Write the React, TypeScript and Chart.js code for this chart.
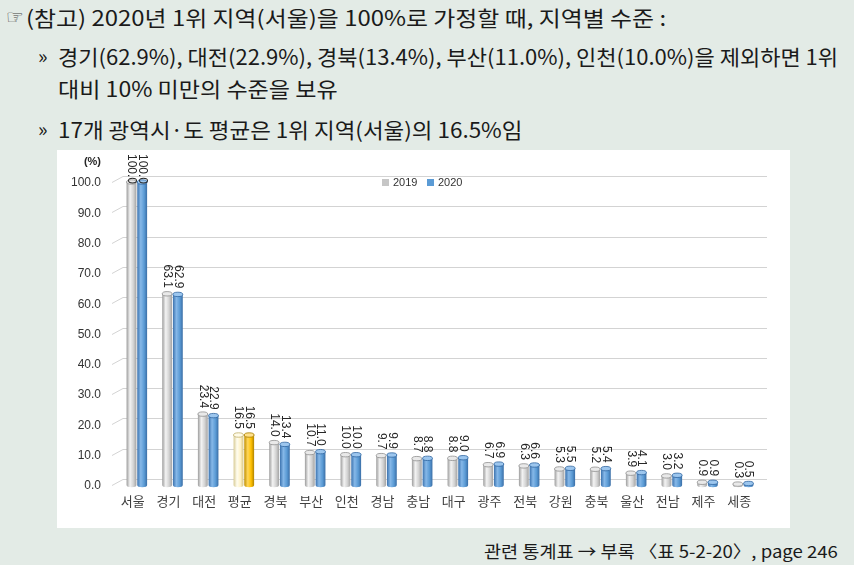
import React, { useEffect, useLayoutEffect, useRef, useState } from 'react';
import { Chart, registerables } from 'chart.js';

Chart.register(...registerables);

// ---------------- data ----------------
const categories = ['서울', '경기', '대전', '평균', '경북', '부산', '인천', '경남', '충남', '대구', '광주', '전북', '강원', '충북', '울산', '전남', '제주', '세종'];
const values2019 = [100.0, 63.1, 23.4, 16.5, 14.0, 10.7, 10.0, 9.7, 8.7, 8.8, 6.7, 6.3, 5.3, 5.2, 3.9, 3.0, 0.9, 0.3];
const values2020 = [100.0, 62.9, 22.9, 16.5, 13.4, 11.0, 10.0, 9.9, 8.8, 9.0, 6.9, 6.6, 5.5, 5.4, 4.1, 3.2, 0.9, 0.5];
const seriesLabels = ['2019', '2020'];
const yTickValues = [0, 10, 20, 30, 40, 50, 60, 70, 80, 90, 100];
const highlightCategory = '평균';
const unitLabel = '(%)';

const headLine1 = '(참고) 2020년 1위 지역(서울)을 100%로 가정할 때, 지역별 수준 :';
const headLine2 = '경기(62.9%), 대전(22.9%), 경북(13.4%), 부산(11.0%), 인천(10.0%)을 제외하면 1위';
const headLine3 = '대비 10% 미만의 수준을 보유';
const headLine4 = '17개 광역시·도 평균은 1위 지역(서울)의 16.5%임';
const footText = '관련 통계표 → 부록 〈표 5-2-20〉, page 246';

// ---------------- styles ----------------
const CAT_PCT = 0.6;
const BAR_PCT = 0.92;
const FONT = "'Liberation Sans', 'Noto Sans CJK KR', sans-serif";
const TEXT_FONT = "'Noto Sans CJK KR', 'Noto Sans', sans-serif";

const stops: Record<string, string[]> = {
  gray: ['#9c9c9c', '#f3f3f3', '#d2d2d2', '#a3a3a3'],
  blue: ['#3b72ae', '#86b8e8', '#5b9bd5', '#3a6ea6'],
  cream: ['#d8cb94', '#fffdf0', '#fff2c6', '#d6c688'],
  gold: ['#c08f00', '#ffd75a', '#ffc000', '#b08300'],
};
const capColors: Record<string, [string, string]> = {
  gray: ['#e9e9e9', '#8f8f8f'],
  blue: ['#9cc6ee', '#2f64a0'],
  cream: ['#fffbe8', '#bfae6a'],
  gold: ['#ffe08a', '#a67c00'],
};
const legendColors = ['#c6c6c6', '#5b9bd5'];

function paletteKey(datasetIndex: number, dataIndex: number) {
  const hl = categories[dataIndex] === highlightCategory;
  if (datasetIndex === 0) return hl ? 'cream' : 'gray';
  return hl ? 'gold' : 'blue';
}

function cylinderFill(ctx: any) {
  const key = paletteKey(ctx.datasetIndex, ctx.dataIndex);
  const s = stops[key];
  const chart = ctx.chart;
  const xs = chart.scales?.x;
  if (!xs || ctx.type !== 'data' || !xs.width) return s[2];
  const catW = xs.width / categories.length;
  const barW = (catW * CAT_PCT) / 2 * BAR_PCT;
  const center = xs.getPixelForValue(ctx.dataIndex) + (ctx.datasetIndex === 0 ? -1 : 1) * catW * CAT_PCT / 4;
  const g = chart.ctx.createLinearGradient(center - barW / 2, 0, center + barW / 2, 0);
  g.addColorStop(0, s[0]);
  g.addColorStop(0.35, s[1]);
  g.addColorStop(0.7, s[2]);
  g.addColorStop(1, s[3]);
  return g;
}

const gridPlugin = {
  id: 'backGrid',
  beforeDatasetsDraw(chart: any) {
    const { ctx, chartArea } = chart;
    const ys = chart.scales.y;
    ctx.save();
    ctx.strokeStyle = '#d3d3d3';
    ctx.lineWidth = 1;
    yTickValues.forEach((v) => {
      const yf = Math.round(ys.getPixelForValue(v)) + 0.5;
      const yb = yf - 6;
      ctx.beginPath();
      ctx.moveTo(chartArea.left - 7, yf);
      ctx.lineTo(chartArea.left + 4, yb);
      ctx.lineTo(chartArea.right + 6, yb);
      ctx.stroke();
    });
    ctx.restore();
  },
};

const decorPlugin = {
  id: 'decor',
  afterDatasetsDraw(chart: any) {
    const { ctx, chartArea } = chart;
    ctx.save();
    chart.data.datasets.forEach((ds: any, di: number) => {
      const meta = chart.getDatasetMeta(di);
      meta.data.forEach((el: any, i: number) => {
        const { x, y, width, base } = el.getProps(['x', 'y', 'width', 'base'], true);
        const key = paletteKey(di, i);
        const [capFill, capStroke] = capColors[key];
        const rx = width / 2;
        // bottom rounded edge
        ctx.beginPath();
        ctx.ellipse(x, base, rx, 2.2, 0, 0, Math.PI);
        ctx.fillStyle = el.options.backgroundColor;
        ctx.fill();
        // top cap
        ctx.beginPath();
        ctx.ellipse(x, y, rx, 2.2, 0, 0, Math.PI * 2);
        ctx.fillStyle = capFill;
        ctx.fill();
        ctx.strokeStyle = capStroke;
        ctx.lineWidth = 0.8;
        ctx.stroke();
        // value label, rotated 90deg clockwise
        const txt = Number(ds.data[i]).toFixed(1);
        ctx.font = `12px ${FONT}`;
        const tw = ctx.measureText(txt).width;
        const end = Math.max(y - 6, tw + 4);
        ctx.save();
        ctx.translate(x, end);
        ctx.rotate(Math.PI / 2);
        ctx.textAlign = 'right';
        ctx.textBaseline = 'middle';
        ctx.fillStyle = '#262626';
        ctx.fillText(txt, 0, 0);
        ctx.restore();
      });
    });
    // unit label
    ctx.font = `bold 11px ${FONT}`;
    ctx.fillStyle = '#262626';
    ctx.textAlign = 'right';
    ctx.textBaseline = 'middle';
    ctx.fillText(unitLabel, chartArea.left - 18, 12);
    // legend
    ctx.font = `11px ${FONT}`;
    ctx.textAlign = 'left';
    let lx = 325;
    const ly = 33;
    seriesLabels.forEach((lab, k) => {
      ctx.fillStyle = legendColors[k];
      ctx.fillRect(lx, ly - 4, 7, 7);
      ctx.fillStyle = '#333333';
      ctx.fillText(lab, lx + 11, ly);
      lx += 45;
    });
    ctx.restore();
  },
};

function ChartBox() {
  const ref = useRef<HTMLCanvasElement>(null);
  useEffect(() => {
    if (!ref.current) return;
    const chart = new Chart(ref.current, {
      type: 'bar',
      data: {
        labels: categories,
        datasets: [
          { label: seriesLabels[0], data: values2019, backgroundColor: cylinderFill, borderWidth: 0 },
          { label: seriesLabels[1], data: values2020, backgroundColor: cylinderFill, borderWidth: 0 },
        ],
      },
      options: {
        animation: false,
        responsive: false,
        events: [],
        datasets: { bar: { categoryPercentage: CAT_PCT, barPercentage: BAR_PCT } },
        layout: { padding: { top: 32, right: 29, bottom: 0, left: 0 } },
        plugins: { legend: { display: false }, tooltip: { enabled: false } },
        scales: {
          x: {
            grid: { display: false, drawTicks: false },
            border: { display: false },
            ticks: { font: { family: FONT, size: 13 }, color: '#404040', padding: 10, labelOffset: -4, maxRotation: 0, autoSkip: false },
            afterFit: (s: any) => { s.height = 43; },
          },
          y: {
            min: 0,
            max: 100,
            grid: { display: false, drawTicks: false },
            border: { display: false },
            ticks: {
              stepSize: 10,
              font: { family: FONT, size: 12 },
              color: '#333333',
              padding: 18,
              labelOffset: 1,
              callback: (v: any) => Number(v).toFixed(1),
            },
            afterFit: (s: any) => { s.width = 62; },
          },
        },
      },
      plugins: [gridPlugin, decorPlugin],
    });
    return () => chart.destroy();
  }, []);
  return <canvas ref={ref} width={733} height={378} style={{ display: 'block' }} />;
}

function FitText(props: { text: string; left: number; cy: number; width: number; size: number; color?: string }) {
  const { text, left, cy, width, size, color } = props;
  const ref = useRef<HTMLSpanElement>(null);
  const [scale, setScale] = useState(1);
  useLayoutEffect(() => {
    if (ref.current) {
      const w = ref.current.offsetWidth;
      if (w > 0) setScale(width / w);
    }
  }, [text, width, size]);
  return (
    <span
      ref={ref}
      style={{
        position: 'absolute',
        left,
        top: cy - size * 0.6,
        fontSize: size,
        lineHeight: `${size * 1.2}px`,
        whiteSpace: 'nowrap',
        fontFamily: TEXT_FONT,
        color: color || '#1a1a1a',
        transform: `scaleX(${scale})`,
        transformOrigin: 'left center',
      }}
    >
      {text}
    </span>
  );
}

export default function App() {
  return (
    <div style={{ position: 'absolute', left: 0, top: 0, width: 854, height: 565, background: '#e3ebe6', overflow: 'hidden' }}>
      <span style={{ position: 'absolute', left: 6, top: 4, fontSize: 20, lineHeight: '26px', fontFamily: "'DejaVu Sans', sans-serif", color: '#444' }}>☞</span>
      <FitText text={headLine1} left={26} cy={18} width={640} size={21} />
      <span style={{ position: 'absolute', left: 38, top: 44, fontSize: 20, lineHeight: '24px', fontFamily: TEXT_FONT, color: '#1a1a1a' }}>»</span>
      <FitText text={headLine2} left={58} cy={57} width={780} size={21} />
      <FitText text={headLine3} left={58} cy={89} width={280} size={21} />
      <span style={{ position: 'absolute', left: 38, top: 117, fontSize: 20, lineHeight: '24px', fontFamily: TEXT_FONT, color: '#1a1a1a' }}>»</span>
      <FitText text={headLine4} left={58} cy={130} width={464} size={21} />
      <div style={{ position: 'absolute', left: 57, top: 150, width: 733, height: 378, background: '#ffffff' }}>
        <ChartBox />
      </div>
      <FitText text={footText} left={484} cy={551} width={354} size={17} />
    </div>
  );
}
